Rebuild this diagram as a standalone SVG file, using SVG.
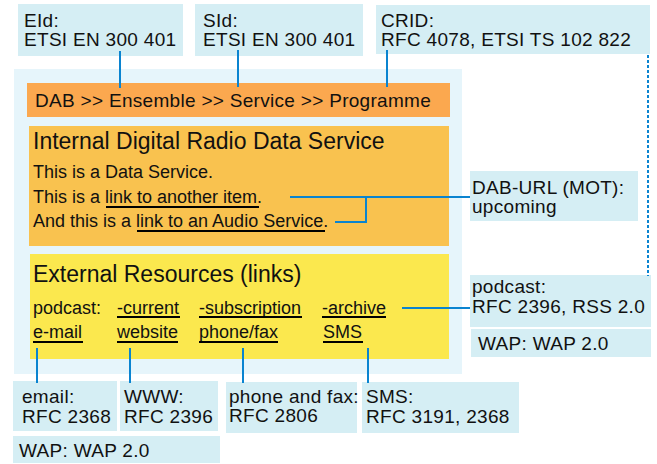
<svg xmlns="http://www.w3.org/2000/svg" width="657" height="464" viewBox="0 0 657 464">
<style>
text{font-family:"Liberation Sans",Arial,sans-serif;fill:#111;}
.lb{fill:#d5eef4;}
.t19{font-size:19px;letter-spacing:0.3px;}
.t18{font-size:18px;}
.t23{font-size:23px;}
.ul{stroke:#000;stroke-width:2;}
.c{stroke:#0a84d0;stroke-width:2;fill:none;}
</style>
<rect x="0" y="0" width="657" height="464" fill="#fff"/>
<g id="background"><rect x="14" y="69" width="448" height="305" fill="#e6f5fb"/></g>
<g id="eid"><rect class="lb" x="18" y="4" width="165" height="52"/>
<text class="t19" x="24" y="27">EId:</text><text class="t19" x="24" y="46">ETSI EN 300 401</text></g>
<g id="sid"><rect class="lb" x="195" y="4" width="168" height="52"/>
<text class="t19" x="203" y="27">SId:</text><text class="t19" x="203" y="46">ETSI EN 300 401</text></g>
<g id="crid"><rect class="lb" x="376" y="5" width="274" height="49"/>
<text class="t19" x="381" y="27">CRID:</text><text class="t19" x="381" y="46">RFC 4078, ETSI TS 102 822</text></g>
<g id="dab"><rect x="27" y="83" width="423" height="34" fill="#fba84f"/>
<text class="t19" x="35" y="107">DAB &gt;&gt; Ensemble &gt;&gt; Service &gt;&gt; Programme</text></g>
<g id="internal"><rect x="29" y="126" width="420" height="120" fill="#f9c24f"/>
<text class="t23" x="33" y="149">Internal Digital Radio Data Service</text>
<text class="t18" x="33" y="178">This is a Data Service.</text>
<text class="t18" x="33" y="203">This is a link to another item.</text>
<text class="t18" x="33" y="227">And this is a link to an Audio Service.</text>
<line class="ul" x1="106" y1="207" x2="259" y2="207"/>
<line class="ul" x1="137" y1="231" x2="325" y2="231"/></g>
<g id="external"><rect x="30" y="254" width="419" height="105" fill="#fbe84e"/>
<text class="t23" x="33" y="282">External Resources (links)</text>
<text class="t18" x="33" y="314">podcast:</text>
<text class="t18" x="117" y="314">-current</text>
<text class="t18" x="199" y="314">-subscription</text>
<text class="t18" x="322" y="314">-archive</text>
<text class="t18" x="33" y="338">e-mail</text>
<text class="t18" x="117" y="338">website</text>
<text class="t18" x="199" y="338">phone/fax</text>
<text class="t18" x="323" y="338">SMS</text>
<line class="ul" x1="117" y1="317" x2="180" y2="317"/>
<line class="ul" x1="199" y1="317" x2="302" y2="317"/>
<line class="ul" x1="322" y1="317" x2="386" y2="317"/>
<line class="ul" x1="33" y1="342" x2="83" y2="342"/>
<line class="ul" x1="117" y1="342" x2="178" y2="342"/>
<line class="ul" x1="199" y1="342" x2="278" y2="342"/>
<line class="ul" x1="323" y1="342" x2="363" y2="342"/></g>
<g id="daburl"><rect class="lb" x="470" y="171" width="168" height="50"/>
<text class="t19" x="472" y="194">DAB-URL (MOT):</text><text class="t19" x="472" y="213">upcoming</text></g>
<g id="podcast"><rect class="lb" x="470" y="275" width="181" height="52"/>
<text class="t19" x="472" y="293">podcast:</text><text class="t19" x="472" y="313">RFC 2396, RSS 2.0</text></g>
<g id="wap-right"><rect class="lb" x="471" y="329" width="180" height="28"/>
<text class="t19" x="478" y="350">WAP: WAP 2.0</text></g>
<g id="email"><rect class="lb" x="13" y="381" width="104" height="50"/>
<text class="t19" x="22" y="403">email:</text><text class="t19" x="22" y="423">RFC 2368</text></g>
<g id="www"><rect class="lb" x="120" y="381" width="98" height="50"/>
<text class="t19" x="124" y="403">WWW:</text><text class="t19" x="124" y="423">RFC 2396</text></g>
<g id="phone"><rect class="lb" x="226" y="382" width="131" height="51"/>
<text class="t19" x="229" y="403">phone and fax:</text><text class="t19" x="229" y="422">RFC 2806</text></g>
<g id="sms"><rect class="lb" x="362" y="382" width="157" height="51"/>
<text class="t19" x="366" y="403">SMS:</text><text class="t19" x="366" y="423">RFC 3191, 2368</text></g>
<g id="wap-bottom"><rect class="lb" x="13" y="436" width="207" height="27"/>
<text class="t19" x="19" y="457">WAP: WAP 2.0</text></g>
<g id="connectors">
<line class="c" x1="120" y1="51" x2="120" y2="88"/>
<line class="c" x1="238" y1="50" x2="238" y2="87"/>
<line class="c" x1="387" y1="50" x2="387" y2="87"/>
<line class="c" x1="290" y1="197" x2="470" y2="197"/>
<polyline class="c" points="335,222 366,222 366,197"/>
<line class="c" x1="402" y1="308" x2="470" y2="308"/>
<line class="c" x1="37" y1="348" x2="37" y2="383"/>
<line class="c" x1="130" y1="348" x2="130" y2="383"/>
<line class="c" x1="243" y1="348" x2="243" y2="383"/>
<line class="c" x1="368" y1="348" x2="368" y2="383"/>
<line class="c" x1="648" y1="55" x2="648" y2="276" stroke-dasharray="3,2"/>
</g>
</svg>
